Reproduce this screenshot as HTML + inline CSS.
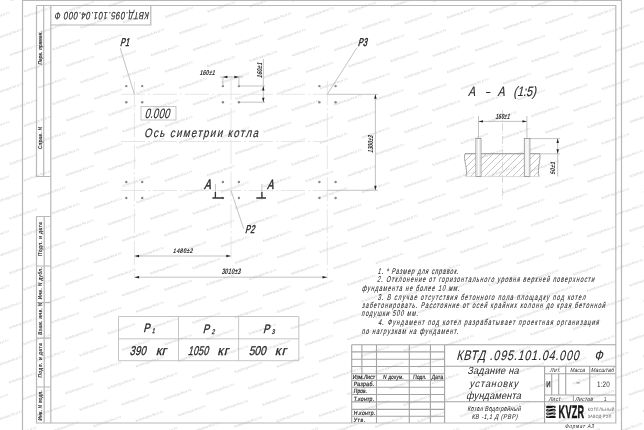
<!DOCTYPE html>
<html><head><meta charset="utf-8">
<style>
html,body{margin:0;padding:0;background:#fff;}
body{width:644px;height:430px;overflow:hidden;position:relative;}
svg{position:absolute;left:0;top:0;will-change:transform;}
text{font-family:"Liberation Sans",sans-serif;text-rendering:geometricPrecision;}
</style></head><body>
<svg width="644" height="430" viewBox="0 0 644 430">
<defs><text id="wm" font-size="3.6" fill="#cfcfcf" style="font-family:'Liberation Sans',sans-serif" textLength="29" lengthAdjust="spacingAndGlyphs" transform="rotate(-19.7)">kotelnaya-kvzr.ru</text></defs>
<g><use href="#wm" x="-32.9" y="443.4"/><use href="#wm" x="-32.7" y="388.8"/><use href="#wm" x="-18.7" y="405.2"/><use href="#wm" x="-4.6" y="421.7"/><use href="#wm" x="9.4" y="438.1"/><use href="#wm" x="-32.6" y="334.2"/><use href="#wm" x="-18.5" y="350.7"/><use href="#wm" x="-4.5" y="367.1"/><use href="#wm" x="9.6" y="383.5"/><use href="#wm" x="23.6" y="399.9"/><use href="#wm" x="37.6" y="416.3"/><use href="#wm" x="51.7" y="432.7"/><use href="#wm" x="-32.4" y="279.7"/><use href="#wm" x="-18.3" y="296.1"/><use href="#wm" x="-4.3" y="312.5"/><use href="#wm" x="9.7" y="328.9"/><use href="#wm" x="23.8" y="345.3"/><use href="#wm" x="37.8" y="361.7"/><use href="#wm" x="51.9" y="378.1"/><use href="#wm" x="65.9" y="394.5"/><use href="#wm" x="79.9" y="410.9"/><use href="#wm" x="94.0" y="427.3"/><use href="#wm" x="108.0" y="443.8"/><use href="#wm" x="-32.2" y="225.1"/><use href="#wm" x="-18.2" y="241.5"/><use href="#wm" x="-4.1" y="257.9"/><use href="#wm" x="9.9" y="274.3"/><use href="#wm" x="23.9" y="290.7"/><use href="#wm" x="38.0" y="307.1"/><use href="#wm" x="52.0" y="323.5"/><use href="#wm" x="66.1" y="339.9"/><use href="#wm" x="80.1" y="356.4"/><use href="#wm" x="94.1" y="372.8"/><use href="#wm" x="108.2" y="389.2"/><use href="#wm" x="122.2" y="405.6"/><use href="#wm" x="136.3" y="422.0"/><use href="#wm" x="150.3" y="438.4"/><use href="#wm" x="-32.0" y="170.5"/><use href="#wm" x="-18.0" y="186.9"/><use href="#wm" x="-4.0" y="203.3"/><use href="#wm" x="10.1" y="219.7"/><use href="#wm" x="24.1" y="236.1"/><use href="#wm" x="38.1" y="252.5"/><use href="#wm" x="52.2" y="268.9"/><use href="#wm" x="66.2" y="285.4"/><use href="#wm" x="80.3" y="301.8"/><use href="#wm" x="94.3" y="318.2"/><use href="#wm" x="108.3" y="334.6"/><use href="#wm" x="122.4" y="351.0"/><use href="#wm" x="136.4" y="367.4"/><use href="#wm" x="150.5" y="383.8"/><use href="#wm" x="164.5" y="400.2"/><use href="#wm" x="178.5" y="416.6"/><use href="#wm" x="192.6" y="433.0"/><use href="#wm" x="-31.9" y="115.9"/><use href="#wm" x="-17.8" y="132.3"/><use href="#wm" x="-3.8" y="148.7"/><use href="#wm" x="10.2" y="165.1"/><use href="#wm" x="24.3" y="181.5"/><use href="#wm" x="38.3" y="197.9"/><use href="#wm" x="52.4" y="214.3"/><use href="#wm" x="66.4" y="230.8"/><use href="#wm" x="80.4" y="247.2"/><use href="#wm" x="94.5" y="263.6"/><use href="#wm" x="108.5" y="280.0"/><use href="#wm" x="122.6" y="296.4"/><use href="#wm" x="136.6" y="312.8"/><use href="#wm" x="150.6" y="329.2"/><use href="#wm" x="164.7" y="345.6"/><use href="#wm" x="178.7" y="362.0"/><use href="#wm" x="192.8" y="378.4"/><use href="#wm" x="206.8" y="394.9"/><use href="#wm" x="220.8" y="411.3"/><use href="#wm" x="234.9" y="427.7"/><use href="#wm" x="248.9" y="444.1"/><use href="#wm" x="-31.7" y="61.3"/><use href="#wm" x="-17.7" y="77.7"/><use href="#wm" x="-3.6" y="94.1"/><use href="#wm" x="10.4" y="110.5"/><use href="#wm" x="24.5" y="126.9"/><use href="#wm" x="38.5" y="143.3"/><use href="#wm" x="52.5" y="159.8"/><use href="#wm" x="66.6" y="176.2"/><use href="#wm" x="80.6" y="192.6"/><use href="#wm" x="94.7" y="209.0"/><use href="#wm" x="108.7" y="225.4"/><use href="#wm" x="122.7" y="241.8"/><use href="#wm" x="136.8" y="258.2"/><use href="#wm" x="150.8" y="274.6"/><use href="#wm" x="164.9" y="291.0"/><use href="#wm" x="178.9" y="307.4"/><use href="#wm" x="192.9" y="323.9"/><use href="#wm" x="207.0" y="340.3"/><use href="#wm" x="221.0" y="356.7"/><use href="#wm" x="235.1" y="373.1"/><use href="#wm" x="249.1" y="389.5"/><use href="#wm" x="263.1" y="405.9"/><use href="#wm" x="277.2" y="422.3"/><use href="#wm" x="291.2" y="438.7"/><use href="#wm" x="-31.5" y="6.7"/><use href="#wm" x="-17.5" y="23.1"/><use href="#wm" x="-3.5" y="39.5"/><use href="#wm" x="10.6" y="55.9"/><use href="#wm" x="24.6" y="72.3"/><use href="#wm" x="38.7" y="88.8"/><use href="#wm" x="52.7" y="105.2"/><use href="#wm" x="66.7" y="121.6"/><use href="#wm" x="80.8" y="138.0"/><use href="#wm" x="94.8" y="154.4"/><use href="#wm" x="108.9" y="170.8"/><use href="#wm" x="122.9" y="187.2"/><use href="#wm" x="136.9" y="203.6"/><use href="#wm" x="151.0" y="220.0"/><use href="#wm" x="165.0" y="236.4"/><use href="#wm" x="179.1" y="252.9"/><use href="#wm" x="193.1" y="269.3"/><use href="#wm" x="207.1" y="285.7"/><use href="#wm" x="221.2" y="302.1"/><use href="#wm" x="235.2" y="318.5"/><use href="#wm" x="249.3" y="334.9"/><use href="#wm" x="263.3" y="351.3"/><use href="#wm" x="277.3" y="367.7"/><use href="#wm" x="291.4" y="384.1"/><use href="#wm" x="305.4" y="400.5"/><use href="#wm" x="319.5" y="417.0"/><use href="#wm" x="333.5" y="433.4"/><use href="#wm" x="10.8" y="1.3"/><use href="#wm" x="24.8" y="17.8"/><use href="#wm" x="38.8" y="34.2"/><use href="#wm" x="52.9" y="50.6"/><use href="#wm" x="66.9" y="67.0"/><use href="#wm" x="81.0" y="83.4"/><use href="#wm" x="95.0" y="99.8"/><use href="#wm" x="109.0" y="116.2"/><use href="#wm" x="123.1" y="132.6"/><use href="#wm" x="137.1" y="149.0"/><use href="#wm" x="151.2" y="165.4"/><use href="#wm" x="165.2" y="181.9"/><use href="#wm" x="179.2" y="198.3"/><use href="#wm" x="193.3" y="214.7"/><use href="#wm" x="207.3" y="231.1"/><use href="#wm" x="221.4" y="247.5"/><use href="#wm" x="235.4" y="263.9"/><use href="#wm" x="249.4" y="280.3"/><use href="#wm" x="263.5" y="296.7"/><use href="#wm" x="277.5" y="313.1"/><use href="#wm" x="291.6" y="329.6"/><use href="#wm" x="305.6" y="346.0"/><use href="#wm" x="319.6" y="362.4"/><use href="#wm" x="333.7" y="378.8"/><use href="#wm" x="347.7" y="395.2"/><use href="#wm" x="361.8" y="411.6"/><use href="#wm" x="375.8" y="428.0"/><use href="#wm" x="389.8" y="444.4"/><use href="#wm" x="53.0" y="-4.0"/><use href="#wm" x="67.1" y="12.4"/><use href="#wm" x="81.1" y="28.8"/><use href="#wm" x="95.2" y="45.2"/><use href="#wm" x="109.2" y="61.6"/><use href="#wm" x="123.2" y="78.0"/><use href="#wm" x="137.3" y="94.4"/><use href="#wm" x="151.3" y="110.9"/><use href="#wm" x="165.4" y="127.3"/><use href="#wm" x="179.4" y="143.7"/><use href="#wm" x="193.4" y="160.1"/><use href="#wm" x="207.5" y="176.5"/><use href="#wm" x="221.5" y="192.9"/><use href="#wm" x="235.6" y="209.3"/><use href="#wm" x="249.6" y="225.7"/><use href="#wm" x="263.6" y="242.1"/><use href="#wm" x="277.7" y="258.6"/><use href="#wm" x="291.7" y="275.0"/><use href="#wm" x="305.8" y="291.4"/><use href="#wm" x="319.8" y="307.8"/><use href="#wm" x="333.8" y="324.2"/><use href="#wm" x="347.9" y="340.6"/><use href="#wm" x="361.9" y="357.0"/><use href="#wm" x="376.0" y="373.4"/><use href="#wm" x="390.0" y="389.8"/><use href="#wm" x="404.0" y="406.2"/><use href="#wm" x="418.1" y="422.6"/><use href="#wm" x="432.1" y="439.1"/><use href="#wm" x="109.4" y="7.0"/><use href="#wm" x="123.4" y="23.4"/><use href="#wm" x="137.5" y="39.9"/><use href="#wm" x="151.5" y="56.3"/><use href="#wm" x="165.5" y="72.7"/><use href="#wm" x="179.6" y="89.1"/><use href="#wm" x="193.6" y="105.5"/><use href="#wm" x="207.7" y="121.9"/><use href="#wm" x="221.7" y="138.3"/><use href="#wm" x="235.7" y="154.7"/><use href="#wm" x="249.8" y="171.1"/><use href="#wm" x="263.8" y="187.6"/><use href="#wm" x="277.9" y="204.0"/><use href="#wm" x="291.9" y="220.4"/><use href="#wm" x="305.9" y="236.8"/><use href="#wm" x="320.0" y="253.2"/><use href="#wm" x="334.0" y="269.6"/><use href="#wm" x="348.1" y="286.0"/><use href="#wm" x="362.1" y="302.4"/><use href="#wm" x="376.1" y="318.8"/><use href="#wm" x="390.2" y="335.2"/><use href="#wm" x="404.2" y="351.6"/><use href="#wm" x="418.2" y="368.1"/><use href="#wm" x="432.3" y="384.5"/><use href="#wm" x="446.3" y="400.9"/><use href="#wm" x="460.4" y="417.3"/><use href="#wm" x="474.4" y="433.7"/><use href="#wm" x="151.7" y="1.7"/><use href="#wm" x="165.7" y="18.1"/><use href="#wm" x="179.7" y="34.5"/><use href="#wm" x="193.8" y="50.9"/><use href="#wm" x="207.8" y="67.3"/><use href="#wm" x="221.9" y="83.7"/><use href="#wm" x="235.9" y="100.1"/><use href="#wm" x="249.9" y="116.5"/><use href="#wm" x="264.0" y="133.0"/><use href="#wm" x="278.0" y="149.4"/><use href="#wm" x="292.1" y="165.8"/><use href="#wm" x="306.1" y="182.2"/><use href="#wm" x="320.1" y="198.6"/><use href="#wm" x="334.2" y="215.0"/><use href="#wm" x="348.2" y="231.4"/><use href="#wm" x="362.3" y="247.8"/><use href="#wm" x="376.3" y="264.2"/><use href="#wm" x="390.3" y="280.6"/><use href="#wm" x="404.4" y="297.1"/><use href="#wm" x="418.4" y="313.5"/><use href="#wm" x="432.5" y="329.9"/><use href="#wm" x="446.5" y="346.3"/><use href="#wm" x="460.5" y="362.7"/><use href="#wm" x="474.6" y="379.1"/><use href="#wm" x="488.6" y="395.5"/><use href="#wm" x="502.7" y="411.9"/><use href="#wm" x="516.7" y="428.3"/><use href="#wm" x="530.7" y="444.8"/><use href="#wm" x="193.9" y="-3.7"/><use href="#wm" x="208.0" y="12.7"/><use href="#wm" x="222.0" y="29.1"/><use href="#wm" x="236.1" y="45.6"/><use href="#wm" x="250.1" y="62.0"/><use href="#wm" x="264.1" y="78.4"/><use href="#wm" x="278.2" y="94.8"/><use href="#wm" x="292.2" y="111.2"/><use href="#wm" x="306.3" y="127.6"/><use href="#wm" x="320.3" y="144.0"/><use href="#wm" x="334.4" y="160.4"/><use href="#wm" x="348.4" y="176.8"/><use href="#wm" x="362.4" y="193.2"/><use href="#wm" x="376.5" y="209.7"/><use href="#wm" x="390.5" y="226.1"/><use href="#wm" x="404.6" y="242.5"/><use href="#wm" x="418.6" y="258.9"/><use href="#wm" x="432.6" y="275.3"/><use href="#wm" x="446.7" y="291.7"/><use href="#wm" x="460.7" y="308.1"/><use href="#wm" x="474.8" y="324.5"/><use href="#wm" x="488.8" y="340.9"/><use href="#wm" x="502.8" y="357.3"/><use href="#wm" x="516.9" y="373.8"/><use href="#wm" x="530.9" y="390.2"/><use href="#wm" x="545.0" y="406.6"/><use href="#wm" x="559.0" y="423.0"/><use href="#wm" x="573.0" y="439.4"/><use href="#wm" x="250.3" y="7.4"/><use href="#wm" x="264.3" y="23.8"/><use href="#wm" x="278.4" y="40.2"/><use href="#wm" x="292.4" y="56.6"/><use href="#wm" x="306.4" y="73.0"/><use href="#wm" x="320.5" y="89.4"/><use href="#wm" x="334.5" y="105.8"/><use href="#wm" x="348.6" y="122.2"/><use href="#wm" x="362.6" y="138.6"/><use href="#wm" x="376.6" y="155.1"/><use href="#wm" x="390.7" y="171.5"/><use href="#wm" x="404.7" y="187.9"/><use href="#wm" x="418.8" y="204.3"/><use href="#wm" x="432.8" y="220.7"/><use href="#wm" x="446.8" y="237.1"/><use href="#wm" x="460.9" y="253.5"/><use href="#wm" x="474.9" y="269.9"/><use href="#wm" x="489.0" y="286.3"/><use href="#wm" x="503.0" y="302.8"/><use href="#wm" x="517.0" y="319.2"/><use href="#wm" x="531.1" y="335.6"/><use href="#wm" x="545.1" y="352.0"/><use href="#wm" x="559.2" y="368.4"/><use href="#wm" x="573.2" y="384.8"/><use href="#wm" x="587.2" y="401.2"/><use href="#wm" x="601.3" y="417.6"/><use href="#wm" x="615.3" y="434.0"/><use href="#wm" x="292.6" y="2.0"/><use href="#wm" x="306.6" y="18.4"/><use href="#wm" x="320.7" y="34.8"/><use href="#wm" x="334.7" y="51.2"/><use href="#wm" x="348.7" y="67.6"/><use href="#wm" x="362.8" y="84.1"/><use href="#wm" x="376.8" y="100.5"/><use href="#wm" x="390.9" y="116.9"/><use href="#wm" x="404.9" y="133.3"/><use href="#wm" x="418.9" y="149.7"/><use href="#wm" x="433.0" y="166.1"/><use href="#wm" x="447.0" y="182.5"/><use href="#wm" x="461.1" y="198.9"/><use href="#wm" x="475.1" y="215.3"/><use href="#wm" x="489.1" y="231.7"/><use href="#wm" x="503.2" y="248.2"/><use href="#wm" x="517.2" y="264.6"/><use href="#wm" x="531.2" y="281.0"/><use href="#wm" x="545.3" y="297.4"/><use href="#wm" x="559.3" y="313.8"/><use href="#wm" x="573.4" y="330.2"/><use href="#wm" x="587.4" y="346.6"/><use href="#wm" x="601.5" y="363.0"/><use href="#wm" x="615.5" y="379.4"/><use href="#wm" x="629.5" y="395.8"/><use href="#wm" x="643.6" y="412.3"/><use href="#wm" x="334.9" y="-3.4"/><use href="#wm" x="348.9" y="13.1"/><use href="#wm" x="362.9" y="29.5"/><use href="#wm" x="377.0" y="45.9"/><use href="#wm" x="391.0" y="62.3"/><use href="#wm" x="405.1" y="78.7"/><use href="#wm" x="419.1" y="95.1"/><use href="#wm" x="433.1" y="111.5"/><use href="#wm" x="447.2" y="127.9"/><use href="#wm" x="461.2" y="144.3"/><use href="#wm" x="475.3" y="160.8"/><use href="#wm" x="489.3" y="177.2"/><use href="#wm" x="503.3" y="193.6"/><use href="#wm" x="517.4" y="210.0"/><use href="#wm" x="531.4" y="226.4"/><use href="#wm" x="545.5" y="242.8"/><use href="#wm" x="559.5" y="259.2"/><use href="#wm" x="573.5" y="275.6"/><use href="#wm" x="587.6" y="292.0"/><use href="#wm" x="601.6" y="308.4"/><use href="#wm" x="615.7" y="324.9"/><use href="#wm" x="629.7" y="341.3"/><use href="#wm" x="643.7" y="357.7"/><use href="#wm" x="391.2" y="7.7"/><use href="#wm" x="405.2" y="24.1"/><use href="#wm" x="419.3" y="40.5"/><use href="#wm" x="433.3" y="56.9"/><use href="#wm" x="447.4" y="73.3"/><use href="#wm" x="461.4" y="89.7"/><use href="#wm" x="475.4" y="106.2"/><use href="#wm" x="489.5" y="122.6"/><use href="#wm" x="503.5" y="139.0"/><use href="#wm" x="517.6" y="155.4"/><use href="#wm" x="531.6" y="171.8"/><use href="#wm" x="545.6" y="188.2"/><use href="#wm" x="559.7" y="204.6"/><use href="#wm" x="573.7" y="221.0"/><use href="#wm" x="587.8" y="237.4"/><use href="#wm" x="601.8" y="253.8"/><use href="#wm" x="615.8" y="270.3"/><use href="#wm" x="629.9" y="286.7"/><use href="#wm" x="643.9" y="303.1"/><use href="#wm" x="433.5" y="2.3"/><use href="#wm" x="447.5" y="18.8"/><use href="#wm" x="461.6" y="35.2"/><use href="#wm" x="475.6" y="51.6"/><use href="#wm" x="489.6" y="68.0"/><use href="#wm" x="503.7" y="84.4"/><use href="#wm" x="517.7" y="100.8"/><use href="#wm" x="531.8" y="117.2"/><use href="#wm" x="545.8" y="133.6"/><use href="#wm" x="559.8" y="150.0"/><use href="#wm" x="573.9" y="166.4"/><use href="#wm" x="587.9" y="182.8"/><use href="#wm" x="602.0" y="199.3"/><use href="#wm" x="616.0" y="215.7"/><use href="#wm" x="630.0" y="232.1"/><use href="#wm" x="644.1" y="248.5"/><use href="#wm" x="475.8" y="-3.0"/><use href="#wm" x="489.8" y="13.4"/><use href="#wm" x="503.9" y="29.8"/><use href="#wm" x="517.9" y="46.2"/><use href="#wm" x="531.9" y="62.6"/><use href="#wm" x="546.0" y="79.0"/><use href="#wm" x="560.0" y="95.4"/><use href="#wm" x="574.0" y="111.8"/><use href="#wm" x="588.1" y="128.3"/><use href="#wm" x="602.1" y="144.7"/><use href="#wm" x="616.2" y="161.1"/><use href="#wm" x="630.2" y="177.5"/><use href="#wm" x="644.2" y="193.9"/><use href="#wm" x="532.1" y="8.0"/><use href="#wm" x="546.1" y="24.4"/><use href="#wm" x="560.2" y="40.8"/><use href="#wm" x="574.2" y="57.3"/><use href="#wm" x="588.3" y="73.7"/><use href="#wm" x="602.3" y="90.1"/><use href="#wm" x="616.3" y="106.5"/><use href="#wm" x="630.4" y="122.9"/><use href="#wm" x="644.4" y="139.3"/><use href="#wm" x="574.4" y="2.7"/><use href="#wm" x="588.4" y="19.1"/><use href="#wm" x="602.5" y="35.5"/><use href="#wm" x="616.5" y="51.9"/><use href="#wm" x="630.5" y="68.3"/><use href="#wm" x="644.6" y="84.7"/><use href="#wm" x="616.7" y="-2.7"/><use href="#wm" x="630.7" y="13.7"/><use href="#wm" x="644.8" y="30.1"/></g>
<g stroke="#b8b8b8" stroke-width="1.2" fill="none">
  <path d="M22.5 0V430M22.5 0.5H621.5M621.5 0V430"/>
  <path d="M50.8 5.5H615.8V423H50.8Z"/>
  <path d="M36.5 5.5H50.8M36.5 5.5V176.5H50.8M43.7 5.5V176.5"/>
  <path d="M36.5 216.5H50.8M36.5 216.5V423H50.8M44.2 216.5V423M36.5 266H50.8M36.5 302.5H50.8M36.5 338.2H50.8M36.5 387H50.8"/>
  <path d="M50.8 25H150.8V5.5"/>
</g>
<text transform="translate(42.00,64.80) rotate(-90) skewX(-6) scale(0.8500,1)" font-size="5.6" fill="#333" stroke="#333" stroke-width="0.2" style="font-weight:normal;font-family:'Liberation Sans',sans-serif" textLength="39.29" lengthAdjust="spacing">Перв. примен.</text>
<text transform="translate(42.00,149.30) rotate(-90) skewX(-6) scale(0.8500,1)" font-size="5.6" fill="#333" stroke="#333" stroke-width="0.2" style="font-weight:normal;font-family:'Liberation Sans',sans-serif" textLength="26.23" lengthAdjust="spacing">Справ. N</text>
<text transform="translate(42.00,256.20) rotate(-90) skewX(-6) scale(0.8500,1)" font-size="5.6" fill="#333" stroke="#333" stroke-width="0.2" style="font-weight:normal;font-family:'Liberation Sans',sans-serif" textLength="39.88" lengthAdjust="spacing">Подп. и дата</text>
<text transform="translate(42.00,299.50) rotate(-90) skewX(-6) scale(0.8500,1)" font-size="5.6" fill="#333" stroke="#333" stroke-width="0.2" style="font-weight:normal;font-family:'Liberation Sans',sans-serif" textLength="37.76" lengthAdjust="spacing">Инв. N дубл.</text>
<text transform="translate(42.00,335.00) rotate(-90) skewX(-6) scale(0.8500,1)" font-size="5.6" fill="#333" stroke="#333" stroke-width="0.2" style="font-weight:normal;font-family:'Liberation Sans',sans-serif" textLength="37.88" lengthAdjust="spacing">Взам. инв. N</text>
<text transform="translate(42.00,377.80) rotate(-90) skewX(-6) scale(0.8500,1)" font-size="5.6" fill="#333" stroke="#333" stroke-width="0.2" style="font-weight:normal;font-family:'Liberation Sans',sans-serif" textLength="40.58" lengthAdjust="spacing">Подп. и дата</text>
<text transform="translate(42.00,420.70) rotate(-90) skewX(-6) scale(0.8500,1)" font-size="5.6" fill="#333" stroke="#333" stroke-width="0.2" style="font-weight:normal;font-family:'Liberation Sans',sans-serif" textLength="35.76" lengthAdjust="spacing">Инв. N подл.</text>
<text transform="translate(149.50,12.00) rotate(180) skewX(-10) scale(0.7400,1)" font-size="10.6" fill="#2a2a2a" stroke="#2a2a2a" stroke-width="0.12" style="font-weight:normal;font-family:'Liberation Sans',sans-serif" textLength="127.32" lengthAdjust="spacing">КВТД.095.101.04.000  Ф</text>
<g stroke="#e0e0e0" stroke-width="0.8" fill="none" stroke-dasharray="24 3 2 3">
  <path d="M121 94.3H327M121 141.5H327M121 190.5H327"/>
  <path d="M134.4 81V278M231 76V258M327.3 81V279"/>
</g>
<g fill="#888"><circle cx="126.3" cy="86.1" r="1.2"/><circle cx="126.3" cy="102.2" r="1.2"/><circle cx="126.3" cy="182" r="1.2"/><circle cx="126.3" cy="198" r="1.2"/><circle cx="142.2" cy="86.1" r="1.2"/><circle cx="142.2" cy="102.2" r="1.2"/><circle cx="142.2" cy="182" r="1.2"/><circle cx="142.2" cy="198" r="1.2"/><circle cx="222.9" cy="86.1" r="1.2"/><circle cx="222.9" cy="102.2" r="1.2"/><circle cx="222.9" cy="182" r="1.2"/><circle cx="222.9" cy="198" r="1.2"/><circle cx="238.9" cy="86.1" r="1.2"/><circle cx="238.9" cy="102.2" r="1.2"/><circle cx="238.9" cy="182" r="1.2"/><circle cx="238.9" cy="198" r="1.2"/><circle cx="319.4" cy="86.1" r="1.2"/><circle cx="319.4" cy="102.2" r="1.2"/><circle cx="319.4" cy="182" r="1.2"/><circle cx="319.4" cy="198" r="1.2"/><circle cx="335.6" cy="86.1" r="1.2"/><circle cx="335.6" cy="102.2" r="1.2"/><circle cx="335.6" cy="182" r="1.2"/><circle cx="335.6" cy="198" r="1.2"/></g>
<g stroke="#b4b4b4" stroke-width="0.8" fill="none">
  <path d="M327.3 94.3H378M327.3 190.3H378M375.4 94.3V190.3"/>
  <path d="M134.4 256H230.8M134.6 277.2H327"/>
  <path d="M220 77H243M222.9 77V86M238.9 77V86"/>
  <path d="M240 86H265M240 102.2H265M263.3 59V102.2"/>
  <path d="M120.2 48.1L134.4 94.3M357.1 47.5L327.3 94.3M231 190.5L243.7 228.8"/>
  <path d="M215.4 184V198M261.9 184V198"/>
</g>
<g stroke="#333" stroke-width="1.3" fill="none">
  <path d="M212.4 198H223.6M215.4 192V198M256.3 198H266M261.9 192V198"/>
</g>
<g fill="#222">
  <path d="M375.4 94.3l-1.2 4.5h2.4z M375.4 190.3l-1.2 -4.5h2.4z"/>
  <path d="M134.6 256l4.5 -1.2v2.4z M230.8 256l-4.5 -1.2v2.4z"/>
  <path d="M134.6 277.2l4.5 -1.2v2.4z M327 277.2l-4.5 -1.2v2.4z"/>
  <path d="M222.9 77l4.5 -1.2v2.4z M238.9 77l-4.5 -1.2v2.4z"/>
  <path d="M263.3 86l-1.2 4.5h2.4z M263.3 102.2l-1.2 -4.5h2.4z"/>
</g>
<text transform="translate(119.90,46.30) skewX(-14) scale(0.6289,1)" font-size="11.3" fill="#2a2a2a" stroke="#2a2a2a" stroke-width="0.5" style="font-weight:normal;font-family:'Liberation Sans',sans-serif" textLength="14.25" lengthAdjust="spacing">P1</text>
<text transform="translate(357.70,46.30) skewX(-14) scale(0.6500,1)" font-size="11.3" fill="#2a2a2a" stroke="#2a2a2a" stroke-width="0.5" style="font-weight:normal;font-family:'Liberation Sans',sans-serif" textLength="14.25" lengthAdjust="spacing">P3</text>
<text transform="translate(245.00,233.00) skewX(-14) scale(0.6570,1)" font-size="11.3" fill="#2a2a2a" stroke="#2a2a2a" stroke-width="0.5" style="font-weight:normal;font-family:'Liberation Sans',sans-serif" textLength="14.25" lengthAdjust="spacing">P2</text>
<text transform="translate(204.10,189.00) skewX(-14) scale(0.7200,1)" font-size="14" fill="#2a2a2a" stroke="#2a2a2a" stroke-width="0.5" style="font-weight:normal;font-family:'Liberation Sans',sans-serif">A</text>
<text transform="translate(266.90,188.60) skewX(-14) scale(0.7000,1)" font-size="13.5" fill="#2a2a2a" stroke="#2a2a2a" stroke-width="0.5" style="font-weight:normal;font-family:'Liberation Sans',sans-serif">A</text>
<rect x="141" y="106.5" width="35" height="13.5" fill="none" stroke="#bcbcbc" stroke-width="0.8"/>
<text transform="translate(144.40,118.00) skewX(-14) scale(0.7203,1)" font-size="13.4" fill="#2a2a2a" stroke="#2a2a2a" stroke-width="0.1" style="font-weight:normal;font-family:'Liberation Sans',sans-serif" textLength="34.57" lengthAdjust="spacing">0.000</text>
<text transform="translate(144.00,137.40) skewX(-14) scale(0.8000,1)" font-size="12.2" fill="#2a2a2a" stroke="#2a2a2a" stroke-width="0.15" style="font-weight:normal;font-family:'Liberation Sans',sans-serif" textLength="142.38" lengthAdjust="spacing">Ось  симетрии  котла</text>
<text transform="translate(199.50,74.70) skewX(-14) scale(0.7479,1)" font-size="7.1" fill="#2a2a2a" style="font-weight:bold;font-family:'Liberation Sans',sans-serif" textLength="20.30" lengthAdjust="spacing">160±1</text>
<text transform="translate(262.00,78.20) rotate(-90) skewX(-14) scale(0.7577,1)" font-size="7.1" fill="#2a2a2a" style="font-weight:bold;font-family:'Liberation Sans',sans-serif" textLength="20.30" lengthAdjust="spacing">160±1</text>
<text transform="translate(373.10,153.00) rotate(-90) skewX(-14) scale(0.6923,1)" font-size="7.3" fill="#2a2a2a" style="font-weight:bold;font-family:'Liberation Sans',sans-serif" textLength="25.06" lengthAdjust="spacing">1300±3</text>
<text transform="translate(172.80,253.20) skewX(-14) scale(0.8000,1)" font-size="6.7" fill="#2a2a2a" style="font-weight:bold;font-family:'Liberation Sans',sans-serif" textLength="24.69" lengthAdjust="spacing">1480±2</text>
<text transform="translate(221.40,274.30) skewX(-14) scale(0.6929,1)" font-size="8" fill="#2a2a2a" style="font-weight:bold;font-family:'Liberation Sans',sans-serif" textLength="27.46" lengthAdjust="spacing">3010±3</text>
<text transform="translate(468.00,96.40) skewX(-14) scale(0.7800,1)" font-size="13.6" fill="#2a2a2a" stroke="#2a2a2a" stroke-width="0.15" style="font-weight:normal;font-family:'Liberation Sans',sans-serif">A</text>
<text transform="translate(485.20,96.40) skewX(-14) scale(0.5500,1)" font-size="13.6" fill="#2a2a2a" stroke="#2a2a2a" stroke-width="0.15" style="font-weight:normal;font-family:'Liberation Sans',sans-serif">–</text>
<text transform="translate(497.60,96.40) skewX(-14) scale(0.7800,1)" font-size="13.6" fill="#2a2a2a" stroke="#2a2a2a" stroke-width="0.15" style="font-weight:normal;font-family:'Liberation Sans',sans-serif">A</text>
<text transform="translate(513.20,96.40) skewX(-14) scale(0.8000,1)" font-size="13.6" fill="#2a2a2a" stroke="#2a2a2a" stroke-width="0.15" style="font-weight:normal;font-family:'Liberation Sans',sans-serif" textLength="28.33" lengthAdjust="spacing">(1:5)</text>
<g stroke="#b4b4b4" stroke-width="0.8" fill="none">
  <path d="M478.5 116V138.4M526.9 116V138.4M478.5 121.4H526.9"/>
  <path d="M529.9 138.6H560M539.5 153.8H560M557.7 138.6V176.5"/>
  <path d="M502.5 110V200" stroke-dasharray="8 2 1 2" stroke="#d0d0d0"/>
</g>
<g fill="#222">
  <path d="M478.5 121.4l4.5 -1.2v2.4z M526.9 121.4l-4.5 -1.2v2.4z"/>
  <path d="M557.7 138.6l-1.2 4.5h2.4z M557.7 153.8l-1.2 -4.5h2.4z"/>
</g>
<g stroke="#b8b8b8" stroke-width="0.8" clip-path="url(#hc)" fill="none">
  <path d="M420 185L460 145M427 185L467 145M434 185L474 145M441 185L481 145M448 185L488 145M455 185L495 145M462 185L502 145M469 185L509 145M476 185L516 145M483 185L523 145M490 185L530 145M497 185L537 145M504 185L544 145M511 185L551 145M518 185L558 145M525 185L565 145M532 185L572 145M539 185L579 145M546 185L586 145M553 185L593 145"/>
</g>
<defs><clipPath id="hc"><path d="M465 153.7H539.8C541 160 537 168 539 176.6H466C468 168 463 160 465 153.7Z"/></clipPath></defs>
<g stroke="#8c8c8c" stroke-width="0.8" fill="none">
  <path d="M465 153.7H539.8" stroke-width="1.1"/>
  <path d="M465 153.7C463 160 468 168 466 176.6"/>
  <path d="M539.8 153.7C541 160 537 168 539 176.6"/>
  <path d="M466 176.6H539" stroke="#cfcfcf"/>
</g>
<g stroke="#8c8c8c" stroke-width="0.8" fill="#fff">
  <rect x="475.9" y="138.4" width="5.1" height="38.2"/>
  <rect x="524.3" y="138.4" width="5.6" height="38.2"/>
</g>
<g stroke="#d0d0d0" stroke-width="0.5"><path d="M477.5 139V176M479.4 139V176M526 139V176M528.2 139V176"/></g>

<text transform="translate(495.20,119.20) skewX(-14) scale(0.6486,1)" font-size="7.7" fill="#2a2a2a" style="font-weight:bold;font-family:'Liberation Sans',sans-serif" textLength="22.02" lengthAdjust="spacing">160±1</text>
<text transform="translate(555.30,174.80) rotate(-90) skewX(-14) scale(0.8000,1)" font-size="6.7" fill="#2a2a2a" style="font-weight:bold;font-family:'Liberation Sans',sans-serif" textLength="16.06" lengthAdjust="spacing">50±1</text>
<text transform="translate(377.60,273.50) skewX(-14) scale(0.6600,1)" font-size="8.4" fill="#222" stroke="#222" stroke-width="0.05" style="font-weight:normal;font-family:'Liberation Sans',sans-serif" textLength="122.36" lengthAdjust="spacing">1.  * Размер для справок.</text>
<text transform="translate(377.10,282.30) skewX(-14) scale(0.6600,1)" font-size="8.4" fill="#222" stroke="#222" stroke-width="0.05" style="font-weight:normal;font-family:'Liberation Sans',sans-serif" textLength="328.88" lengthAdjust="spacing">2.  Отклонение от горизонтального уровня верхней поверхности</text>
<text transform="translate(361.70,290.60) skewX(-14) scale(0.6600,1)" font-size="8.4" fill="#222" stroke="#222" stroke-width="0.05" style="font-weight:normal;font-family:'Liberation Sans',sans-serif" textLength="147.82" lengthAdjust="spacing">фундамента  не  более  10  мм.</text>
<text transform="translate(377.60,300.00) skewX(-14) scale(0.6600,1)" font-size="8.4" fill="#222" stroke="#222" stroke-width="0.05" style="font-weight:normal;font-family:'Liberation Sans',sans-serif" textLength="314.48" lengthAdjust="spacing">3.  В случае отсутствия бетонного пола площадку под котел</text>
<text transform="translate(361.70,308.30) skewX(-14) scale(0.6600,1)" font-size="8.4" fill="#222" stroke="#222" stroke-width="0.05" style="font-weight:normal;font-family:'Liberation Sans',sans-serif" textLength="368.27" lengthAdjust="spacing">забетонировать.  Расстояние от осей крайних колонн до края бетонной</text>
<text transform="translate(361.20,316.40) skewX(-14) scale(0.6600,1)" font-size="8.4" fill="#222" stroke="#222" stroke-width="0.05" style="font-weight:normal;font-family:'Liberation Sans',sans-serif" textLength="85.70" lengthAdjust="spacing">подушки  500  мм.</text>
<text transform="translate(378.00,324.70) skewX(-14) scale(0.6600,1)" font-size="8.4" fill="#222" stroke="#222" stroke-width="0.05" style="font-weight:normal;font-family:'Liberation Sans',sans-serif" textLength="334.18" lengthAdjust="spacing">4.  Фундамент под котел разрабатывает проектная организация</text>
<text transform="translate(361.50,334.40) skewX(-14) scale(0.6600,1)" font-size="8.4" fill="#222" stroke="#222" stroke-width="0.05" style="font-weight:normal;font-family:'Liberation Sans',sans-serif" textLength="146.15" lengthAdjust="spacing">по нагрузкам на фундамент.</text>
<g stroke="#b8b8b8" stroke-width="0.8" fill="none">
  <path d="M118.5 316.5H298.8V360.7H118.5Z M118.5 338.8H298.8 M178.5 316.5V360.7 M238.6 316.5V360.7"/>
</g>
<text transform="translate(143.20,331.80) skewX(-14) scale(0.7800,1)" font-size="12.2" fill="#2a2a2a" stroke="#2a2a2a" stroke-width="0.4" style="font-weight:normal;font-family:'Liberation Sans',sans-serif">P</text>
<text transform="translate(151.80,332.80) skewX(-14) scale(0.8000,1)" font-size="6.8" fill="#2a2a2a" stroke="#2a2a2a" stroke-width="0.25" style="font-weight:normal;font-family:'Liberation Sans',sans-serif">1</text>
<text transform="translate(202.70,333.00) skewX(-14) scale(0.7800,1)" font-size="12.2" fill="#2a2a2a" stroke="#2a2a2a" stroke-width="0.4" style="font-weight:normal;font-family:'Liberation Sans',sans-serif">P</text>
<text transform="translate(211.50,333.60) skewX(-14) scale(0.8000,1)" font-size="6.8" fill="#2a2a2a" stroke="#2a2a2a" stroke-width="0.25" style="font-weight:normal;font-family:'Liberation Sans',sans-serif">2</text>
<text transform="translate(262.90,333.00) skewX(-14) scale(0.7800,1)" font-size="12.2" fill="#2a2a2a" stroke="#2a2a2a" stroke-width="0.4" style="font-weight:normal;font-family:'Liberation Sans',sans-serif">P</text>
<text transform="translate(271.50,333.60) skewX(-14) scale(0.8000,1)" font-size="6.8" fill="#2a2a2a" stroke="#2a2a2a" stroke-width="0.25" style="font-weight:normal;font-family:'Liberation Sans',sans-serif">3</text>
<text transform="translate(129.40,354.60) skewX(-14) scale(0.7405,1)" font-size="12.8" fill="#2a2a2a" stroke="#2a2a2a" stroke-width="0.3" style="font-weight:normal;font-family:'Liberation Sans',sans-serif" textLength="22.02" lengthAdjust="spacing">390</text>
<text transform="translate(155.80,354.60) skewX(-14)" font-size="12.8" fill="#2a2a2a" stroke="#2a2a2a" stroke-width="0.3" style="font-weight:normal;font-family:'Liberation Sans',sans-serif" textLength="10.30" lengthAdjust="spacing">кг</text>
<text transform="translate(187.80,354.80) skewX(-14) scale(0.6951,1)" font-size="12.8" fill="#2a2a2a" stroke="#2a2a2a" stroke-width="0.3" style="font-weight:normal;font-family:'Liberation Sans',sans-serif" textLength="29.36" lengthAdjust="spacing">1050</text>
<text transform="translate(217.20,354.80) skewX(-14)" font-size="12.8" fill="#2a2a2a" stroke="#2a2a2a" stroke-width="0.3" style="font-weight:normal;font-family:'Liberation Sans',sans-serif" textLength="11.30" lengthAdjust="spacing">кг</text>
<text transform="translate(248.70,354.80) skewX(-14) scale(0.8000,1)" font-size="12.8" fill="#2a2a2a" stroke="#2a2a2a" stroke-width="0.3" style="font-weight:normal;font-family:'Liberation Sans',sans-serif" textLength="21.26" lengthAdjust="spacing">500</text>
<text transform="translate(274.80,354.80) skewX(-14)" font-size="12.8" fill="#2a2a2a" stroke="#2a2a2a" stroke-width="0.3" style="font-weight:normal;font-family:'Liberation Sans',sans-serif" textLength="11.30" lengthAdjust="spacing">кг</text>
<g stroke="#a4a4a4" stroke-width="1.1" fill="none">
  <path d="M351.7 344.8H615.8M351.7 344.8V423"/>
  <path d="M351.7 351.9H444.6M351.7 359.2H444.6M351.7 366.5H444.6M351.7 373.7H444.6M351.7 380.3H444.6M351.7 387.2H444.6M351.7 394.5H444.6M351.7 401.9H444.6M351.7 409.4H444.6M351.7 416.2H444.6"/>
  <path d="M361.9 345V380.3M376.5 345V423M409.3 345V423M430.4 345V423M444.6 345V423"/>
  <path d="M444.6 366.3H615.8M444.6 401.7H615.8M544.6 366.3V423M544.6 373.8H615.8M544.6 395H615.8"/>
  <path d="M551.7 373.8V395M558.7 373.8V395M565.7 366.3V395M589.7 366.3V395M573.4 395V401.7"/>
</g>
<text transform="translate(352.50,379.30) skewX(-7) scale(0.8500,1)" font-size="6.2" fill="#2a2a2a" stroke="#2a2a2a" stroke-width="0.2" style="font-weight:normal;font-family:'Liberation Sans',sans-serif" textLength="26.44" lengthAdjust="spacing">Изм.Лист</text>
<text transform="translate(383.00,379.30) skewX(-7) scale(0.7415,1)" font-size="6.2" fill="#2a2a2a" stroke="#2a2a2a" stroke-width="0.2" style="font-weight:normal;font-family:'Liberation Sans',sans-serif" textLength="27.61" lengthAdjust="spacing">N  докум.</text>
<text transform="translate(413.00,379.30) skewX(-7) scale(0.7874,1)" font-size="6.2" fill="#2a2a2a" stroke="#2a2a2a" stroke-width="0.2" style="font-weight:normal;font-family:'Liberation Sans',sans-serif" textLength="17.12" lengthAdjust="spacing">Подп.</text>
<text transform="translate(431.50,379.30) skewX(-7) scale(0.7989,1)" font-size="6.2" fill="#2a2a2a" stroke="#2a2a2a" stroke-width="0.2" style="font-weight:normal;font-family:'Liberation Sans',sans-serif" textLength="14.37" lengthAdjust="spacing">Дата</text>
<text transform="translate(353.50,386.30) skewX(-7) scale(0.8500,1)" font-size="6.2" fill="#2a2a2a" stroke="#2a2a2a" stroke-width="0.2" style="font-weight:normal;font-family:'Liberation Sans',sans-serif" textLength="24.09" lengthAdjust="spacing">Разраб.</text>
<text transform="translate(353.50,393.30) skewX(-7) scale(0.7986,1)" font-size="6.2" fill="#2a2a2a" stroke="#2a2a2a" stroke-width="0.2" style="font-weight:normal;font-family:'Liberation Sans',sans-serif" textLength="16.88" lengthAdjust="spacing">Пров.</text>
<text transform="translate(353.50,400.50) skewX(-7) scale(0.8500,1)" font-size="6.2" fill="#2a2a2a" stroke="#2a2a2a" stroke-width="0.2" style="font-weight:normal;font-family:'Liberation Sans',sans-serif" textLength="24.09" lengthAdjust="spacing">Т.контр.</text>
<text transform="translate(353.50,414.80) skewX(-7) scale(0.8500,1)" font-size="6.2" fill="#2a2a2a" stroke="#2a2a2a" stroke-width="0.2" style="font-weight:normal;font-family:'Liberation Sans',sans-serif" textLength="25.27" lengthAdjust="spacing">Н.контр.</text>
<text transform="translate(353.50,421.80) skewX(-7) scale(0.8500,1)" font-size="6.2" fill="#2a2a2a" stroke="#2a2a2a" stroke-width="0.2" style="font-weight:normal;font-family:'Liberation Sans',sans-serif" textLength="13.50" lengthAdjust="spacing">Утв.</text>
<text transform="translate(456.30,359.90) skewX(-14) scale(0.7800,1)" font-size="13.7" fill="#2a2a2a" stroke="#2a2a2a" stroke-width="0.1" style="font-weight:normal;font-family:'Liberation Sans',sans-serif" textLength="156.86" lengthAdjust="spacing">КВТД .095.101.04.000</text>
<text transform="translate(594.20,359.90) skewX(-14) scale(0.8000,1)" font-size="13.7" fill="#2a2a2a" stroke="#2a2a2a" stroke-width="0.1" style="font-weight:normal;font-family:'Liberation Sans',sans-serif">Ф</text>
<text transform="translate(467.20,374.30) skewX(-14) scale(0.8800,1)" font-size="10.4" fill="#2a2a2a" style="font-weight:normal;font-family:'Liberation Sans',sans-serif" textLength="58.54" lengthAdjust="spacing">Задание на</text>
<text transform="translate(469.30,386.80) skewX(-14) scale(0.8800,1)" font-size="10.4" fill="#2a2a2a" style="font-weight:normal;font-family:'Liberation Sans',sans-serif" textLength="55.02" lengthAdjust="spacing">установку</text>
<text transform="translate(466.00,398.70) skewX(-14) scale(0.8800,1)" font-size="10.4" fill="#2a2a2a" style="font-weight:normal;font-family:'Liberation Sans',sans-serif" textLength="62.29" lengthAdjust="spacing">фундамента</text>
<text transform="translate(467.20,411.00) skewX(-14) scale(0.8000,1)" font-size="6.8" fill="#2a2a2a" stroke="#2a2a2a" stroke-width="0.05" style="font-weight:normal;font-family:'Liberation Sans',sans-serif" textLength="66.54" lengthAdjust="spacing">Котел Водогрейный</text>
<text transform="translate(471.40,418.50) skewX(-14) scale(0.8000,1)" font-size="6.8" fill="#2a2a2a" stroke="#2a2a2a" stroke-width="0.05" style="font-weight:normal;font-family:'Liberation Sans',sans-serif" textLength="57.42" lengthAdjust="spacing">КВ -1,1  Д  (РВР)</text>
<text transform="translate(549.80,372.00) skewX(-14) scale(0.8500,1)" font-size="6" fill="#2a2a2a" style="font-weight:normal;font-family:'Liberation Sans',sans-serif" textLength="12.20" lengthAdjust="spacing">Лит.</text>
<text transform="translate(570.00,372.00) skewX(-14) scale(0.7998,1)" font-size="6" fill="#2a2a2a" style="font-weight:normal;font-family:'Liberation Sans',sans-serif" textLength="18.22" lengthAdjust="spacing">Масса</text>
<text transform="translate(590.80,372.00) skewX(-14) scale(0.8500,1)" font-size="6" fill="#2a2a2a" style="font-weight:normal;font-family:'Liberation Sans',sans-serif" textLength="26.79" lengthAdjust="spacing">Масштаб</text>
<text transform="translate(548.40,400.50) skewX(-14) scale(0.8500,1)" font-size="6" fill="#2a2a2a" style="font-weight:normal;font-family:'Liberation Sans',sans-serif" textLength="14.08" lengthAdjust="spacing">Лист</text>
<text transform="translate(575.00,400.50) skewX(-14) scale(0.8500,1)" font-size="6" fill="#2a2a2a" style="font-weight:normal;font-family:'Liberation Sans',sans-serif" textLength="20.91" lengthAdjust="spacing">Листов</text>
<text transform="translate(546.20,387.00) scale(0.7500,1)" font-size="8" fill="#2a2a2a" stroke="#2a2a2a" stroke-width="0.3" style="font-weight:normal;font-family:'Liberation Sans',sans-serif">И</text>
<text transform="translate(576.60,384.50) scale(0.7413,1)" font-size="8" fill="#2a2a2a" style="font-weight:normal;font-family:'Liberation Sans',sans-serif" textLength="4.59" lengthAdjust="spacing">–</text>
<text transform="translate(597.00,387.00) scale(0.7912,1)" font-size="8" fill="#2a2a2a" style="font-weight:normal;font-family:'Liberation Sans',sans-serif" textLength="16.05" lengthAdjust="spacing">1:20</text>
<text transform="translate(604.00,400.50) scale(0.7267,1)" font-size="6" fill="#2a2a2a" style="font-weight:normal;font-family:'Liberation Sans',sans-serif" textLength="3.44" lengthAdjust="spacing">1</text>
<path d="M547.3 407H554.5M547.3 410.3H554.5M547.3 413.6H554.5M547.3 416.9H554.5" stroke="#151515" stroke-width="2.4" stroke-linecap="round" fill="none"/><path d="M554.5 407L547.3 410.3M554.5 410.3L547.3 413.6M554.5 413.6L547.3 416.9" stroke="#fff" stroke-width="0.7" fill="none"/>
<text transform="translate(558.60,418.30) scale(0.5048,1)" font-size="18" fill="#151515" stroke="#151515" stroke-width="0.5" style="font-weight:bold;font-family:'Liberation Sans',sans-serif" textLength="50.51" lengthAdjust="spacing">KVZR</text>
<text transform="translate(587.80,411.30) scale(0.8000,1)" font-size="4.6" fill="#555" style="font-weight:normal;font-family:'Liberation Sans',sans-serif" textLength="33.38" lengthAdjust="spacing">КОТЕЛЬНЫЙ</text>
<text transform="translate(587.80,417.50) scale(0.8000,1)" font-size="4.6" fill="#555" style="font-weight:normal;font-family:'Liberation Sans',sans-serif" textLength="29.50" lengthAdjust="spacing">ЗАВОД РЭП</text>
<text transform="translate(564.80,428.20) skewX(-14) scale(0.8500,1)" font-size="5.6" fill="#2a2a2a" style="font-weight:normal;font-family:'Liberation Sans',sans-serif" textLength="34.05" lengthAdjust="spacing">Формат А3</text>
</svg>
</body></html>
